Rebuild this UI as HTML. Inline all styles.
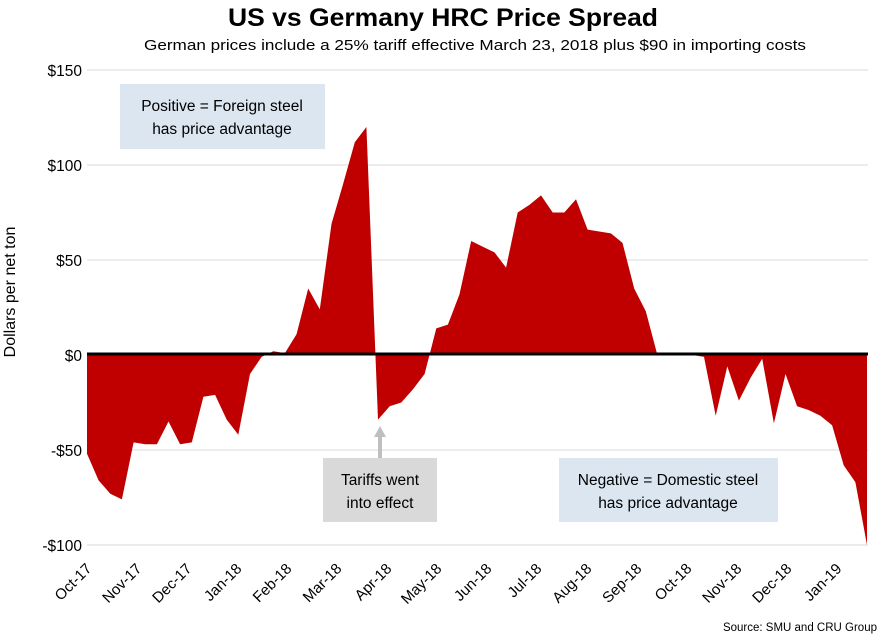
<!DOCTYPE html>
<html><head><meta charset="utf-8"><style>
body{margin:0;background:#fff;}
svg text{font-family:"Liberation Sans",sans-serif;}
</style></head><body>
<svg id="chart" width="885" height="637" viewBox="0 0 885 637" xmlns="http://www.w3.org/2000/svg">
<text x="443" y="26" text-anchor="middle" font-size="25" font-weight="bold" fill="#000" textLength="430" lengthAdjust="spacingAndGlyphs">US vs Germany HRC Price Spread</text>
<text x="475" y="50" text-anchor="middle" font-size="15" fill="#000" textLength="662" lengthAdjust="spacingAndGlyphs">German prices include a 25% tariff effective March 23, 2018 plus $90 in importing costs</text>
<text transform="translate(15,292) rotate(-90)" text-anchor="middle" font-size="16" fill="#000">Dollars per net ton</text>
<g id="grid"></g>
<g id="area"></g>
<g id="xlabels"></g>
<line x1="87" x2="868" y1="354" y2="354" stroke="#000" stroke-width="3"/>
<rect x="120" y="84" width="205" height="65" fill="#dce6f1"/>
<text x="222" y="111" text-anchor="middle" font-size="15.5">Positive = Foreign steel</text>
<text x="222" y="134" text-anchor="middle" font-size="15.5">has price advantage</text>
<line x1="380" y1="458" x2="380" y2="436" stroke="#bfbfbf" stroke-width="4"/>
<polygon points="374,437 386,437 380,426" fill="#bfbfbf"/>
<rect x="323" y="458" width="114" height="64" fill="#d9d9d9"/>
<text x="380" y="485" text-anchor="middle" font-size="15.5">Tariffs went</text>
<text x="380" y="508" text-anchor="middle" font-size="15.5">into effect</text>
<rect x="559" y="458" width="219" height="64" fill="#dce6f1"/>
<text x="668" y="485" text-anchor="middle" font-size="15.5">Negative = Domestic steel</text>
<text x="668" y="508" text-anchor="middle" font-size="15.5">has price advantage</text>
<text x="877" y="631" text-anchor="end" font-size="11.5">Source: SMU and CRU Group</text>
</svg>
<script>
const spreadValues=[-52,-66,-73,-76,-46,-47,-47,-35,-47,-46,-22,-21,-34,-42,-10,-1,2,1,11,35,24,69,90,112,120,-34,-27,-25,-18,-10,14,16,32,60,57,54,46,75,79,84,75,75,82,66,65,64,59,35,23,0,1,1,0,-1,-32,-6,-24,-12,-2,-36,-10,-27,-29,-32,-37,-58,-67,-100];
const yTicks=[150,100,50,0,-50,-100];
const yTickLabels=["$150","$100","$50","$0","-$50","-$100"];
const monthLabels=["Oct-17","Nov-17","Dec-17","Jan-18","Feb-18","Mar-18","Apr-18","May-18","Jun-18","Jul-18","Aug-18","Sep-18","Oct-18","Nov-18","Dec-18","Jan-19"];

const NS="http://www.w3.org/2000/svg";
const X0=87,X1=868,Y150=70,Yn100=545;
function yScale(v){return Y150+(150-v)*(Yn100-Y150)/250;}
function xScale(i){return X0+i*(867-X0)/(spreadValues.length-1);}
function monthX(m){return 89+m*50;}
const grid=document.getElementById('grid');
yTicks.forEach((t,k)=>{
  const y=yScale(t);
  const l=document.createElementNS(NS,'line');
  l.setAttribute('x1',X0);l.setAttribute('x2',X1);l.setAttribute('y1',y);l.setAttribute('y2',y);
  l.setAttribute('stroke','#d9d9d9');l.setAttribute('stroke-width','1');
  
  
  grid.appendChild(l);
  const tx=document.createElementNS(NS,'text');
  tx.setAttribute('x',82);tx.setAttribute('y',y+6);tx.setAttribute('text-anchor','end');tx.setAttribute('font-size','15.5');
  tx.textContent=yTickLabels[k];
  
  
  grid.appendChild(tx);
});
let d='M'+xScale(0)+','+yScale(0);
spreadValues.forEach((v,i)=>{d+=' L'+xScale(i).toFixed(1)+','+yScale(v).toFixed(1);});
d+=' L'+xScale(spreadValues.length-1)+','+yScale(0)+' Z';
const p=document.createElementNS(NS,'path');
p.setAttribute('d',d);p.setAttribute('fill','#c00000');


document.getElementById('area').appendChild(p);
const xl=document.getElementById('xlabels');
monthLabels.forEach((m,k)=>{
  const t=document.createElementNS(NS,'text');
  const x=monthX(k),y=566;
  t.setAttribute('transform','translate('+x+','+y+') rotate(-45)');
  t.setAttribute('text-anchor','end');t.setAttribute('font-size','15');
  t.setAttribute('dy','5');
  t.textContent=m;
  
  
  xl.appendChild(t);
});
</script>
</body></html>
